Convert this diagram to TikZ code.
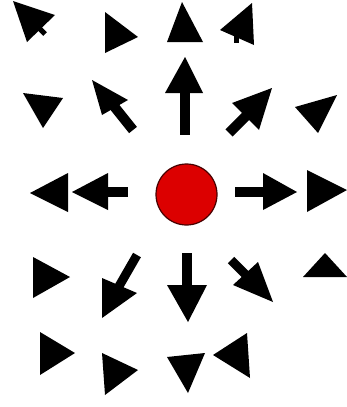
\documentclass[tikz,border=0pt]{standalone}
\definecolor{ballred}{RGB}{220,0,0}
\definecolor{ballrim}{RGB}{70,0,0}
\begin{document}
\begin{tikzpicture}[x=1pt,y=-1pt,
  head/.style={fill=black},
  stem/.style={draw=black,line width=10pt},
  ballstyle/.style={circle,minimum size=61pt,inner sep=0pt,fill=ballred,draw=ballrim,line width=1.2pt}]
\useasboundingbox[fill=white] (0,0) rectangle (347,407);
% row 1
\fill[head] (13,1) -- (55,15) -- (27,42) -- cycle;
\draw[stem,line width=5pt] (36,25) -- (45,34);
\fill[head] (105,12) -- (138,37) -- (105,53) -- cycle;
\fill[head] (182,2) -- (203,42) -- (167,42) -- cycle;
\fill[head] (220,30) -- (252,3) -- (254,45) -- cycle;
\draw[stem,line width=5pt] (236,33) -- (236,43);
% row 2
\fill[head] (23,93) -- (63,98) -- (43,128) -- cycle;
\draw[stem] (113,105) -- (133,130);
\fill[head] (92,80) -- (128,100) -- (102,115) -- cycle;
\draw[stem] (185,90) -- (185,135);
\fill[head] (185,57) -- (203,93) -- (165,93) -- cycle;
\draw[stem] (246,116) -- (229,133);
\fill[head] (272,88) -- (259,130) -- (232,103) -- cycle;
\fill[head] (295,107) -- (337,95) -- (318,133) -- cycle;
% row 3
\fill[head] (30,193) -- (68,173) -- (68,212) -- cycle;
\draw[stem] (105,192) -- (128,192);
\fill[head] (72,192) -- (108,173) -- (108,210) -- cycle;
\node[ballstyle] (ball) at (186.5,194.5) {};
\draw[stem] (235,192) -- (266,192);
\fill[head] (297,192) -- (263,173) -- (263,210) -- cycle;
\fill[head] (347,190) -- (307,170) -- (307,212) -- cycle;
% row 4
\fill[head] (33,257) -- (70,277) -- (33,298) -- cycle;
\draw[stem,line width=9pt] (137,255) -- (118,288);
\fill[head] (102,278) -- (137,293) -- (102,318) -- cycle;
\draw[stem] (187,253) -- (187,288);
\fill[head] (167,285) -- (207,285) -- (188,322) -- cycle;
\draw[stem,line width=9pt] (231,260) -- (247,276);
\fill[head] (233,285) -- (258,262) -- (273,302) -- cycle;
\fill[head] (325,253) -- (347,277) -- (303,277) -- cycle;
% row 5
\fill[head] (40,332) -- (75,353) -- (40,375) -- cycle;
\fill[head] (102,353) -- (138,370) -- (105,395) -- cycle;
\fill[head] (167,357) -- (205,353) -- (188,393) -- cycle;
\fill[head] (213,355) -- (247,333) -- (250,378) -- cycle;
\end{tikzpicture}
\end{document}
